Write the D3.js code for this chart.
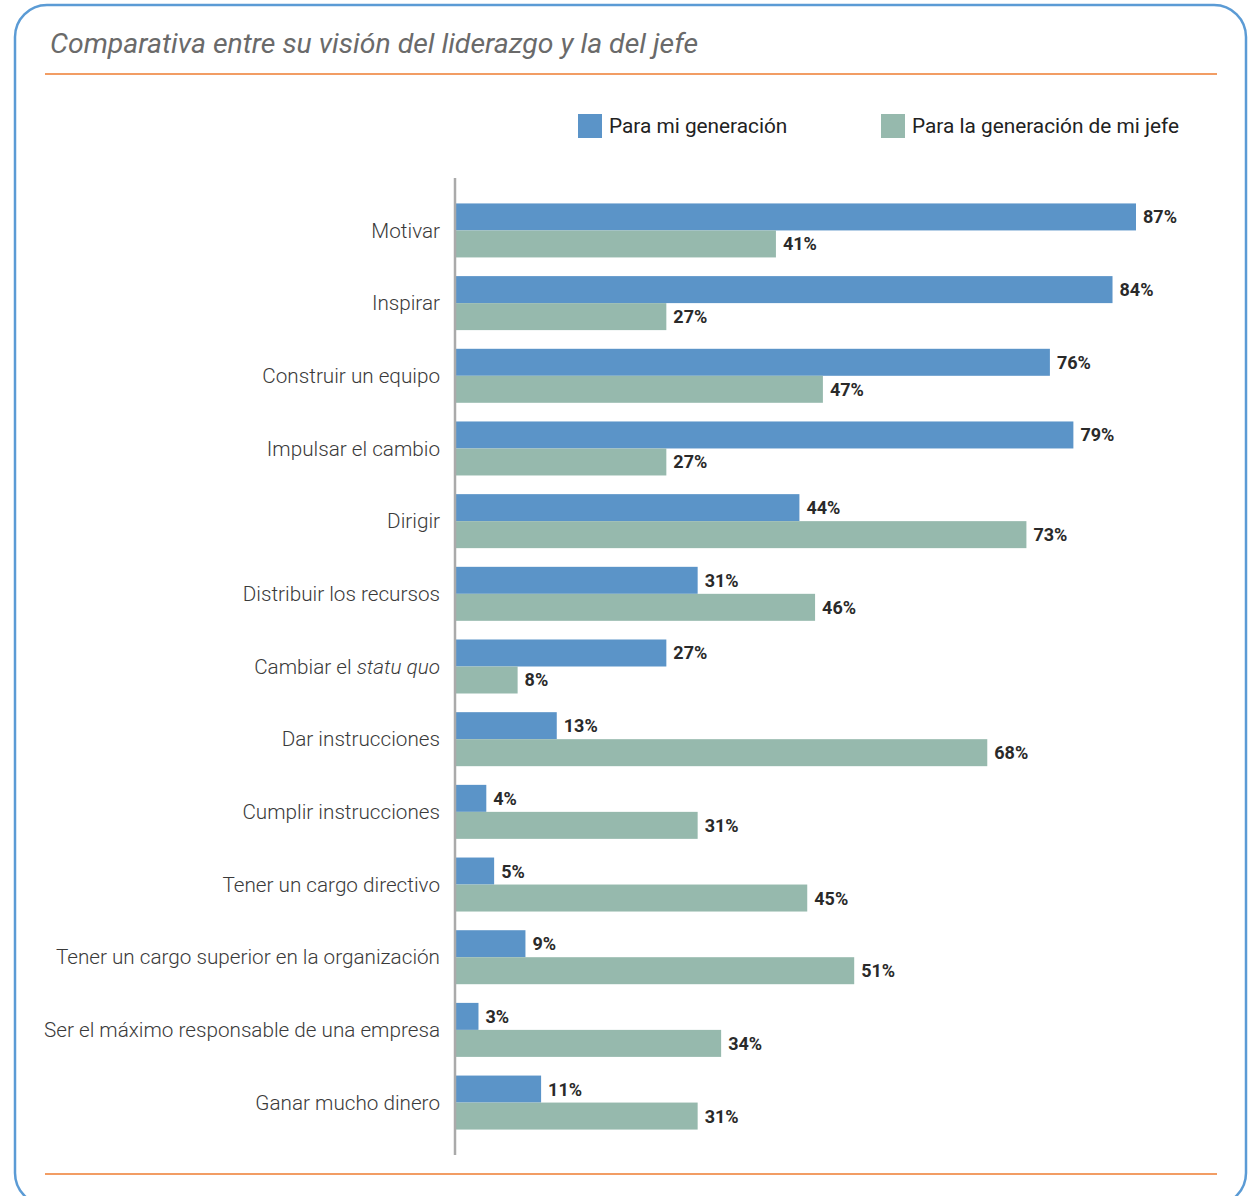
<!DOCTYPE html>
<html>
<head>
<meta charset="utf-8">
<script src="https://cdn.jsdelivr.net/npm/d3@7"></script>
<style>
  body { margin: 0; background: #fff; }
  text { font-family: Roboto, "DejaVu Sans", sans-serif; }
</style>
</head>
<body>
<div id="chart"></div>
<script>
var categories = ["Motivar", "Inspirar", "Construir un equipo", "Impulsar el cambio", "Dirigir",
  "Distribuir los recursos", "Cambiar el statu quo", "Dar instrucciones", "Cumplir instrucciones",
  "Tener un cargo directivo", "Tener un cargo superior en la organización",
  "Ser el máximo responsable de una empresa", "Ganar mucho dinero"];
var miGeneracion = [87, 84, 76, 79, 44, 31, 27, 13, 4, 5, 9, 3, 11];
var generacionJefe = [41, 27, 47, 27, 73, 46, 8, 68, 31, 45, 51, 34, 31];
var seriesNames = ["Para mi generación", "Para la generación de mi jefe"];
var colors = ["#5b94c8", "#96b9ad"];

var W = 1249, H = 1196;
var svg = d3.select("#chart").append("svg")
  .attr("width", W)
  .attr("height", H);

// frame
svg.append("rect")
  .attr("x", 15).attr("y", 5)
  .attr("width", 1231).attr("height", 1200)
  .attr("rx", 32).attr("ry", 32)
  .attr("fill", "none")
  .attr("stroke", "#5b9bd5")
  .attr("stroke-width", 2.5);

// title and rules
svg.append("text")
  .attr("x", 50).attr("y", 53)
  .attr("font-size", 27)
  .attr("font-style", "italic")
  .attr("fill", "#6a6a6a")
  .attr("textLength", 648)
  .attr("lengthAdjust", "spacingAndGlyphs")
  .text("Comparativa entre su visión del liderazgo y la del jefe");

[74, 1174].forEach(function (yy) {
  svg.append("line")
    .attr("x1", 45).attr("x2", 1217)
    .attr("y1", yy).attr("y2", yy)
    .attr("stroke", "#ee7d31")
    .attr("stroke-width", 1.5);
});

// legend
var legend = svg.append("g");
[578, 881].forEach(function (lx, i) {
  legend.append("rect")
    .attr("x", lx).attr("y", 114)
    .attr("width", 24).attr("height", 24)
    .attr("fill", colors[i]);
  legend.append("text")
    .attr("x", lx + 31).attr("y", 133)
    .attr("font-size", 20.8)
    .attr("fill", "#222")
    .text(seriesNames[i]);
});

// scales
var x0 = 455;
var x = d3.scaleLinear().domain([0, 87]).range([x0, 1136]);
var y = d3.scaleBand()
  .domain(categories)
  .range([178, 1155])
  .paddingInner(0.257)
  .paddingOuter(0.35);
var ySub = d3.scaleBand()
  .domain([0, 1])
  .range([0, y.bandwidth()]);

var data = categories.map(function (c, i) {
  return { cat: c, vals: [miGeneracion[i], generacionJefe[i]] };
});

var groups = svg.selectAll(".grp")
  .data(data)
  .enter().append("g")
  .attr("class", "grp")
  .attr("transform", function (d) { return "translate(0," + y(d.cat) + ")"; });

groups.selectAll("rect")
  .data(function (d) { return d.vals; })
  .enter().append("rect")
  .attr("x", x0)
  .attr("y", function (d, i) { return ySub(i); })
  .attr("width", function (d) { return x(d) - x0; })
  .attr("height", ySub.bandwidth())
  .attr("fill", function (d, i) { return colors[i]; });

groups.selectAll(".val")
  .data(function (d) { return d.vals; })
  .enter().append("text")
  .attr("class", "val")
  .attr("x", function (d) { return x(d) + 7; })
  .attr("y", function (d, i) { return ySub(i) + ySub.bandwidth() / 2 + 6.5; })
  .attr("font-size", 18)
  .attr("font-weight", "bold")
  .attr("fill", "#2a2a2a")
  .text(function (d) { return d + "%"; });

// category labels
var yAxis = d3.axisLeft(y).tickSize(0).tickPadding(15);
var axisG = svg.append("g")
  .attr("transform", "translate(" + x0 + ",0)")
  .call(yAxis);
axisG.select(".domain").remove();
axisG.selectAll(".tick text")
  .attr("font-size", 20.7)
  .attr("font-weight", 300)
  .attr("fill", "#3a3a3a")
  .attr("dy", "0.35em")
  .style("font-family", "Roboto, sans-serif")
  .each(function (d) {
    if (d === "Cambiar el statu quo") {
      var t = d3.select(this).text("");
      t.append("tspan").text("Cambiar el ");
      t.append("tspan").attr("font-style", "italic").text("statu quo");
    }
  });

// vertical axis line
svg.append("line")
  .attr("x1", x0).attr("x2", x0)
  .attr("y1", 178).attr("y2", 1155)
  .attr("stroke", "#aaaaaa")
  .attr("stroke-width", 2.5);
</script>
</body>
</html>
